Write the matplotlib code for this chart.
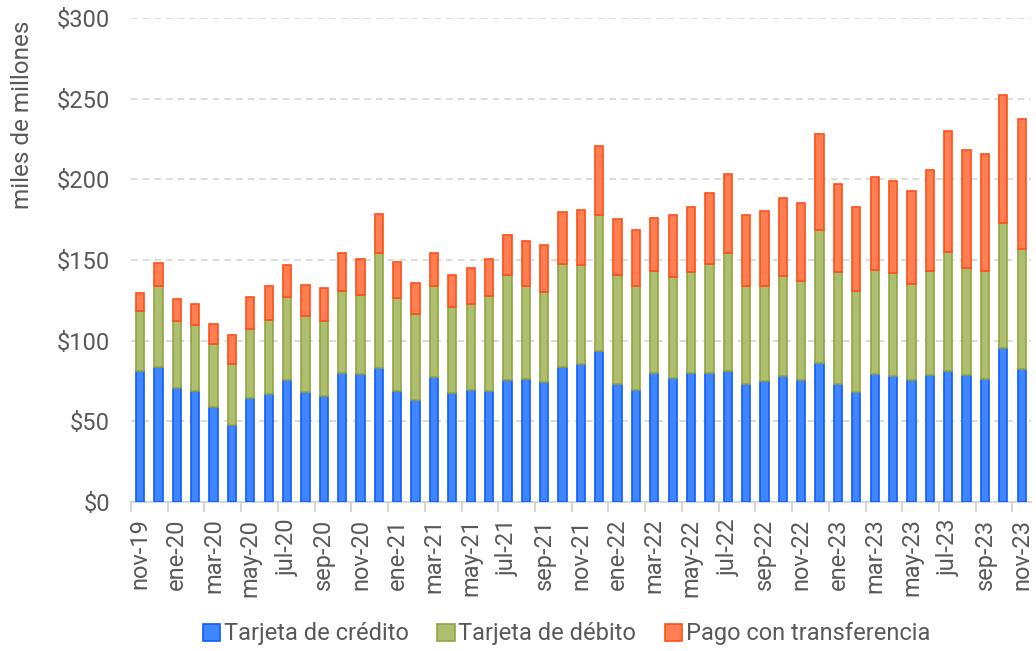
import numpy as np
import matplotlib.pyplot as plt

plt.rcParams['font.family'] = ['Roboto', 'DejaVu Sans']

meses = ['nov-19', 'dic-19', 'ene-20', 'feb-20', 'mar-20', 'abr-20', 'may-20', 'jun-20',
         'jul-20', 'ago-20', 'sep-20', 'oct-20', 'nov-20', 'dic-20', 'ene-21', 'feb-21',
         'mar-21', 'abr-21', 'may-21', 'jun-21', 'jul-21', 'ago-21', 'sep-21', 'oct-21',
         'nov-21', 'dic-21', 'ene-22', 'feb-22', 'mar-22', 'abr-22', 'may-22', 'jun-22',
         'jul-22', 'ago-22', 'sep-22', 'oct-22', 'nov-22', 'dic-22', 'ene-23', 'feb-23',
         'mar-23', 'abr-23', 'may-23', 'jun-23', 'jul-23', 'ago-23', 'sep-23', 'oct-23',
         'nov-23']

credito = [81.2, 83.9, 70.9, 69.0, 59.1, 47.5, 64.3, 66.8, 75.6, 68.0, 65.7, 80.2, 79.2,
           83.3, 69.0, 63.4, 77.7, 67.6, 69.6, 69.0, 75.4, 76.5, 74.6, 83.5, 85.6, 93.8,
           73.4, 69.2, 79.8, 76.9, 80.2, 79.8, 81.5, 73.0, 75.0, 78.1, 75.8, 86.0, 73.4,
           68.2, 79.4, 77.9, 75.4, 78.9, 81.0, 78.9, 76.5, 95.5, 82.6]

debito = [37.2, 50.2, 41.5, 40.7, 38.6, 37.8, 43.2, 46.0, 51.3, 47.3, 46.5, 50.8, 49.3,
          70.9, 57.3, 53.3, 56.2, 53.1, 52.9, 58.7, 65.1, 57.6, 55.8, 64.2, 61.5, 84.3,
          67.5, 64.9, 63.4, 62.4, 62.6, 67.5, 73.1, 61.1, 58.7, 62.2, 61.2, 82.8, 69.2,
          62.6, 64.6, 64.3, 59.5, 64.1, 74.2, 66.4, 66.9, 77.3, 74.5]

transferencia = [11.4, 14.3, 13.4, 13.3, 12.9, 18.2, 19.8, 21.1, 20.2, 19.4, 20.5, 23.6,
                 21.9, 24.2, 22.7, 18.9, 20.3, 20.2, 22.6, 22.9, 25.2, 27.7, 28.7, 32.1,
                 34.1, 42.8, 34.3, 34.3, 32.7, 38.4, 40.3, 44.1, 48.9, 44.0, 46.9, 48.0,
                 48.6, 59.5, 54.5, 52.3, 57.7, 57.0, 57.7, 63.0, 74.8, 72.7, 72.5, 79.7,
                 80.2]

x = np.arange(len(meses))
credito = np.array(credito)
debito = np.array(debito)
transferencia = np.array(transferencia)

fig = plt.figure(figsize=(10.36, 6.51), dpi=100)
ax = fig.add_axes([0.1264, 0.229, 0.8686, 0.743])

w = 0.45
ax.bar(x, credito, w, color='#3f86ff', edgecolor='#0f5cff', linewidth=1.2,
       label='Tarjeta de crédito', zorder=3)
ax.bar(x, debito, w, bottom=credito, color='#adbe6e', edgecolor='#93a444', linewidth=1.2,
       label='Tarjeta de débito', zorder=3)
ax.bar(x, transferencia, w, bottom=credito + debito, color='#ff7e52', edgecolor='#ff5018',
       linewidth=1.2, label='Pago con transferencia', zorder=3)

ax.set_xlim(-0.5, len(meses) - 0.5)
ax.set_ylim(0, 300)
ax.set_yticks(np.arange(0, 301, 50))
ax.set_yticklabels(['$%d' % v for v in range(0, 301, 50)])
ax.yaxis.grid(True, linestyle=(0, (4, 3)), color='#d6d6d6', linewidth=1.2, zorder=0)
ax.tick_params(axis='y', length=0, pad=15, labelsize=17, labelcolor='#595959')

ax.set_xticks(x[::2])
ax.set_xticklabels(meses[::2], rotation=90)
ax.set_xticks(np.arange(-0.5, len(meses), 2), minor=True)
ax.tick_params(axis='x', which='major', length=0, pad=12, labelsize=17, labelcolor='#595959')
ax.tick_params(axis='x', which='minor', length=7, color='#d0d0d0', width=1.2)

for s in ['left', 'right', 'top']:
    ax.spines[s].set_visible(False)
ax.spines['bottom'].set_color('#d0d0d0')
ax.spines['bottom'].set_linewidth(1.2)

ax.set_ylabel('miles de millones', fontsize=17.5, color='#595959')
ax.yaxis.set_label_coords(-0.108, 0.80)

ax.legend(loc='center', bbox_to_anchor=(0.484, -0.273), ncol=3, frameon=False,
          fontsize=17, labelcolor='#595959', handlelength=0.75, handleheight=0.75,
          handletextpad=0.15, columnspacing=1.2)

plt.savefig('out.png')
